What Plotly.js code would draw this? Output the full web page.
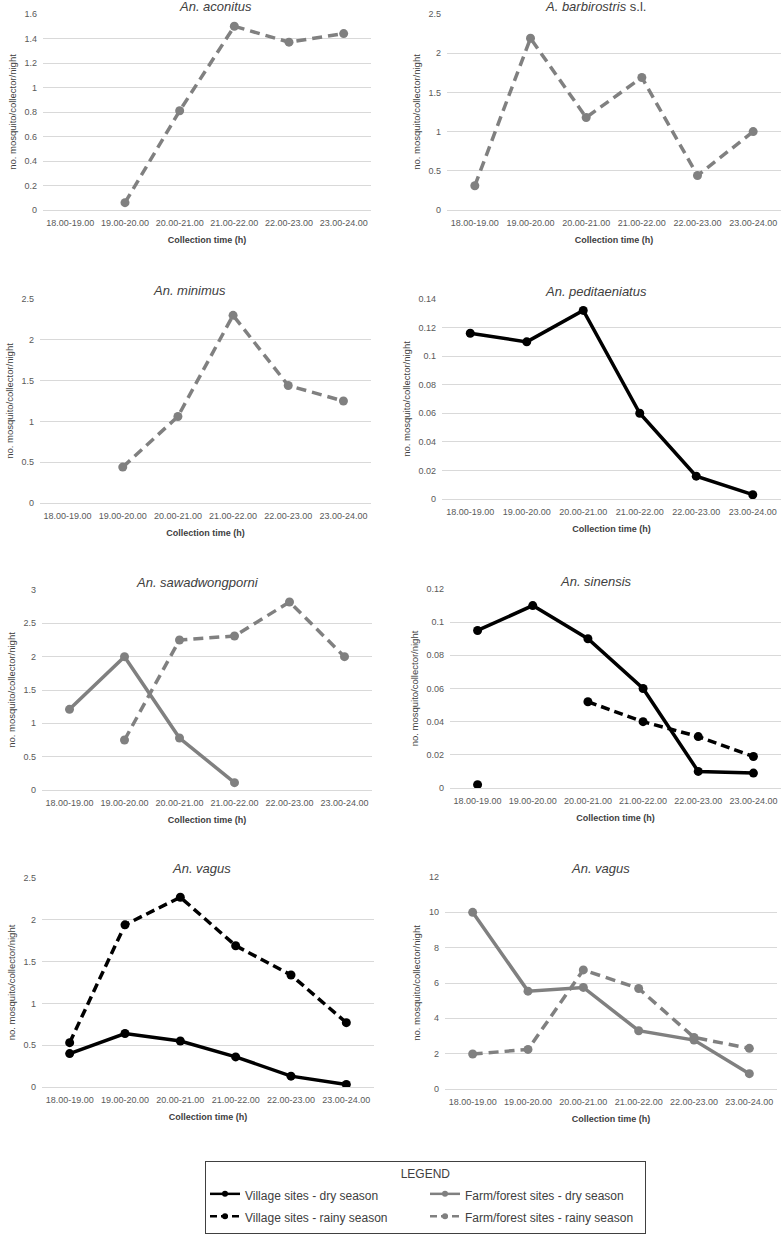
<!DOCTYPE html>
<html>
<head>
<meta charset="utf-8">
<script src="https://cdn.plot.ly/plotly-3.0.1.min.js"></script>
<style>
  html, body { margin: 0; padding: 0; background: #ffffff; }
  #chart { width: 784px; height: 1239px; }
</style>
</head>
<body>
<div id="chart"></div>
<script>
// ---------------- DATA ----------------
const categories = ['18.00-19.00', '19.00-20.00', '20.00-21.00', '21.00-22.00', '22.00-23.00', '23.00-24.00'];

const panelTitles = [
  '<i>An. aconitus</i>',
  '<i>A. barbirostris</i> s.l.',
  '<i>An. minimus</i>',
  '<i>An. peditaeniatus</i>',
  '<i>An. sawadwongporni</i>',
  '<i>An. sinensis</i>',
  '<i>An. vagus</i>',
  '<i>An. vagus</i>'
];

const seriesNames = [
  'Village sites - dry season',
  'Village sites - rainy season',
  'Farm/forest sites - dry season',
  'Farm/forest sites - rainy season'
];

const yAxisTitle = 'no. mosquito/collector/night';
const xAxisTitle = 'Collection time (h)';
const legendTitle = 'LEGEND';

const yMax = [1.6, 2.5, 2.5, 0.14, 3, 0.12, 2.5, 12];
const yStep = [0.2, 0.5, 0.5, 0.02, 0.5, 0.02, 0.5, 2];

// panel 1: An. aconitus
const aconitusFarmRainy = [null, 0.06, 0.81, 1.50, 1.37, 1.44];
// panel 2: A. barbirostris s.l.
const barbirostrisFarmRainy = [0.31, 2.19, 1.18, 1.69, 0.44, 1.00];
// panel 3: An. minimus
const minimusFarmRainy = [null, 0.44, 1.06, 2.30, 1.44, 1.25];
// panel 4: An. peditaeniatus
const peditaeniatusVillageDry = [0.116, 0.110, 0.132, 0.060, 0.016, 0.003];
// panel 5: An. sawadwongporni
const sawadwongporniFarmDry = [1.21, 2.00, 0.78, 0.11, null, null];
const sawadwongporniFarmRainy = [null, 0.75, 2.25, 2.31, 2.82, 2.00];
// panel 6: An. sinensis
const sinensisVillageDry = [0.095, 0.110, 0.090, 0.060, 0.010, 0.009];
const sinensisVillageRainy = [0.002, null, 0.052, 0.040, 0.031, 0.019];
// panel 7: An. vagus (village)
const vagusVillageDry = [0.40, 0.64, 0.55, 0.36, 0.13, 0.03];
const vagusVillageRainy = [0.53, 1.94, 2.27, 1.69, 1.34, 0.77];
// panel 8: An. vagus (farm/forest)
const vagusFarmDry = [10.0, 5.54, 5.75, 3.30, 2.77, 0.87];
const vagusFarmRainy = [1.98, 2.24, 6.74, 5.69, 2.92, 2.30];

// ---------------- LAYOUT CONSTANTS ----------------
const W = 784, H = 1239;
const FONT = 'Liberation Sans, Arial, sans-serif';
// plot-area rectangles in pixels: [left, top, right, bottom]
const rects = [
  [43, 14, 371, 210],
  [447, 14, 781, 210],
  [40, 299, 371, 503],
  [442, 299, 781, 499],
  [42, 590, 372, 790],
  [450, 589, 781, 788],
  [42, 878, 374, 1087],
  [445, 877, 777, 1089]
];
const titlePos = [
  [215, 7], [595, 7], [189, 290], [596, 291],
  [197, 582], [596, 581], [201, 868], [600, 868]
];

// styles for each series type
const styles = {
  villageDry:   { color: '#000000', dash: 'solid',    legendDash: 'solid',   group: 'village', rank: 1, name: seriesNames[0] },
  villageRainy: { color: '#000000', dash: '9px,5px',  legendDash: '7px,4px', group: 'village', rank: 2, name: seriesNames[1] },
  farmDry:      { color: '#808080', dash: 'solid',    legendDash: 'solid',   group: 'farm',    rank: 3, name: seriesNames[2] },
  farmRainy:    { color: '#808080', dash: '10px,6px', legendDash: '7px,4px', group: 'farm',    rank: 4, name: seriesNames[3] }
};

const panelSeries = [
  [['farmRainy', aconitusFarmRainy]],
  [['farmRainy', barbirostrisFarmRainy]],
  [['farmRainy', minimusFarmRainy]],
  [['villageDry', peditaeniatusVillageDry]],
  [['farmDry', sawadwongporniFarmDry], ['farmRainy', sawadwongporniFarmRainy]],
  [['villageDry', sinensisVillageDry], ['villageRainy', sinensisVillageRainy]],
  [['villageDry', vagusVillageDry], ['villageRainy', vagusVillageRainy]],
  [['farmDry', vagusFarmDry], ['farmRainy', vagusFarmRainy]]
];

const traces = [];
panelSeries.forEach((list, i) => {
  const n = i === 0 ? '' : String(i + 1);
  list.forEach(([type, vals]) => {
    const s = styles[type];
    traces.push({
      type: 'scatter',
      mode: 'lines+markers',
      x: categories,
      y: vals,
      xaxis: 'x' + n,
      yaxis: 'y' + n,
      name: s.name,
      legendgroup: s.group,
      showlegend: false,
      connectgaps: false,
      line: { color: s.color, width: 3.5, dash: s.dash },
      marker: { color: s.color, size: 9, symbol: 'circle' },
      hoverinfo: 'skip'
    });
  });
});

// legend entries (no data of their own, only the legend key)
['villageDry', 'villageRainy', 'farmDry', 'farmRainy'].forEach(type => {
  const s = styles[type];
  traces.push({
    type: 'scatter',
    mode: 'lines+markers',
    x: [categories[0]],
    y: [null],
    xaxis: 'x',
    yaxis: 'y',
    name: '<span style="font-size:12px">' + s.name + '</span>',
    legendgroup: s.group,
    legendrank: s.rank,
    showlegend: true,
    line: { color: s.color, width: 2.5, dash: s.legendDash },
    marker: { color: s.color, size: 6, symbol: 'circle' },
    hoverinfo: 'skip'
  });
});

const layout = {
  width: W,
  height: H,
  margin: { l: 0, r: 0, t: 0, b: 0, autoexpand: false },
  paper_bgcolor: '#ffffff',
  plot_bgcolor: '#ffffff',
  font: { family: FONT, color: '#595959' },
  showlegend: true,
  hovermode: false,
  annotations: [],
  legend: {
    orientation: 'h',
    traceorder: 'grouped',
    x: 205 / W,
    xanchor: 'left',
    y: 1 - 1161 / H,
    yanchor: 'top',
    bgcolor: '#ffffff',
    bordercolor: '#404040',
    borderwidth: 1,
    itemwidth: 30,
    entrywidth: 175,
    tracegroupgap: 10,
    font: { family: FONT, size: 15, color: '#404040' },
    title: { text: legendTitle, side: 'top center', font: { family: FONT, size: 12, color: '#404040' } }
  }
};

rects.forEach((r, i) => {
  const n = i === 0 ? '' : String(i + 1);
  const [l, t, rr, b] = r;
  layout['xaxis' + n] = {
    domain: [l / W, rr / W],
    anchor: 'y' + n,
    type: 'category',
    range: [-0.5, 5.5],
    showgrid: false,
    zeroline: false,
    showline: false,
    ticks: '',
    ticklabelstandoff: 6,
    tickangle: 0,
    tickfont: { family: FONT, size: 9, color: '#595959' },
    title: { text: xAxisTitle, standoff: 9, font: { family: FONT, size: 9, color: '#404040', weight: 'bold' } },
    fixedrange: true
  };
  layout['yaxis' + n] = {
    domain: [1 - b / H, 1 - t / H],
    anchor: 'x' + n,
    range: [0, yMax[i]],
    tick0: 0,
    dtick: yStep[i],
    showgrid: true,
    gridcolor: '#d9d9d9',
    gridwidth: 1,
    zeroline: true,
    zerolinecolor: '#d9d9d9',
    zerolinewidth: 1,
    showline: false,
    ticks: '',
    ticklabelstandoff: 5,
    tickfont: { family: FONT, size: 9, color: '#595959' },
    title: { text: yAxisTitle, standoff: 6, font: { family: FONT, size: 9.5, color: '#404040' } },
    fixedrange: true
  };
  layout.annotations.push({
    xref: 'paper', yref: 'paper',
    x: titlePos[i][0] / W, y: 1 - titlePos[i][1] / H,
    xanchor: 'center', yanchor: 'middle',
    text: panelTitles[i],
    showarrow: false,
    font: { family: FONT, size: 13, color: '#404040' }
  });
});

Plotly.newPlot('chart', traces, layout, { displayModeBar: false, staticPlot: true });
</script>
</body>
</html>
